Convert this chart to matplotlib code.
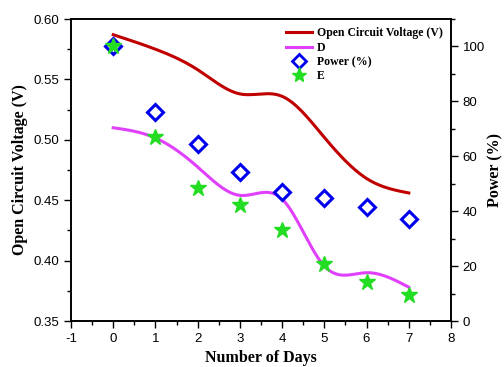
import numpy as np
import matplotlib.pyplot as plt
from matplotlib.ticker import MultipleLocator
from matplotlib.lines import Line2D

# data
days = [0, 1, 2, 3, 4, 5, 6, 7]
voltage = [0.587, 0.575, 0.558, 0.538, 0.536, 0.502, 0.468, 0.456]
d_curve = [0.510, 0.5015, 0.4775, 0.454, 0.451, 0.3955, 0.390, 0.378]
power = [100, 76, 64.4, 54.2, 46.9, 44.7, 41.5, 37.1]
e_vals = [100, 66.9, 48.4, 42.2, 33.1, 20.7, 14.2, 9.5]


def spline(x, y, n=200):
    # natural cubic spline, only used to draw the smooth connecting line
    x = np.asarray(x, float)
    y = np.asarray(y, float)
    k = len(x)
    h = np.diff(x)
    A = np.zeros((k, k))
    b = np.zeros(k)
    A[0, 0] = A[-1, -1] = 1
    for i in range(1, k - 1):
        A[i, i - 1] = h[i - 1]
        A[i, i] = 2 * (h[i - 1] + h[i])
        A[i, i + 1] = h[i]
        b[i] = 3 * ((y[i + 1] - y[i]) / h[i] - (y[i] - y[i - 1]) / h[i - 1])
    c = np.linalg.solve(A, b)
    xs = np.linspace(x[0], x[-1], n)
    idx = np.clip(np.searchsorted(x, xs) - 1, 0, k - 2)
    dx = xs - x[idx]
    bb = (y[idx + 1] - y[idx]) / h[idx] - h[idx] * (2 * c[idx] + c[idx + 1]) / 3
    dd = (c[idx + 1] - c[idx]) / (3 * h[idx])
    return xs, y[idx] + bb * dx + c[idx] * dx ** 2 + dd * dx ** 3


plt.rcParams['font.family'] = 'Liberation Sans'
plt.rcParams['axes.unicode_minus'] = False
fig = plt.figure(figsize=(5.04, 3.67), dpi=100)
ax = fig.add_axes([0.1409, 0.1253, 0.7539, 0.8229])
ax2 = ax.twinx()

xs, ys = spline(days, voltage)
ax.plot(xs, ys, color='#c00000', lw=2.2)
xs, ys = spline(days, d_curve)
ax.plot(xs, ys, color='#e040fb', lw=2.2)

ax2.plot(days, power, linestyle='none', marker='D', ms=8, mfc='white',
         mec='#0000ee', mew=2.2)
ax2.plot(days, e_vals, linestyle='none', marker='*', ms=12, color='#22dd22')

ax.set_xlim(-1, 8)
ax.set_ylim(0.35, 0.60)
ax2.set_ylim(0, 110)
ax.xaxis.set_major_locator(MultipleLocator(1))
ax.xaxis.set_minor_locator(MultipleLocator(0.5))
ax.yaxis.set_major_locator(MultipleLocator(0.05))
ax.yaxis.set_minor_locator(MultipleLocator(0.025))
ax2.yaxis.set_major_locator(MultipleLocator(20))
ax2.yaxis.set_minor_locator(MultipleLocator(10))
ax.set_yticks(ax.get_yticks())
ax.set_yticklabels(['%.2f' % v for v in ax.get_yticks()])
ax.set_ylim(0.35, 0.60)

for a in (ax, ax2):
    a.tick_params(which='major', length=5, width=1, labelsize=9.5, direction='out')
    a.tick_params(which='minor', length=3, width=1, direction='out')
    for s in a.spines.values():
        s.set_linewidth(1.2)

ax.set_xlabel('Number of Days', family='Liberation Serif', fontweight='bold', fontsize=11.5)
ax.set_ylabel('Open Circuit Voltage (V)', family='Liberation Serif', fontweight='bold', fontsize=11.5)
ax2.set_ylabel('Power (%)', family='Liberation Serif', fontweight='bold', fontsize=11.5,
               labelpad=2)

handles = [
    Line2D([], [], color='#c00000', lw=2.2),
    Line2D([], [], color='#e040fb', lw=2.2),
    Line2D([], [], linestyle='none', marker='D', ms=7, mfc='white', mec='#0000ee', mew=2),
    Line2D([], [], linestyle='none', marker='*', ms=11, color='#22dd22'),
]
labels = ['Open Circuit Voltage (V)', 'D', 'Power (%)', 'E']
ax2.legend(handles, labels, loc='upper right', frameon=False,
           prop={'family': 'Liberation Serif', 'weight': 'bold', 'size': 8.5},
           handlelength=2.2, handletextpad=0.4, labelspacing=0.2,
           borderaxespad=0.3, bbox_to_anchor=(1.0, 1.0))

fig.savefig('out.png', dpi=100)
